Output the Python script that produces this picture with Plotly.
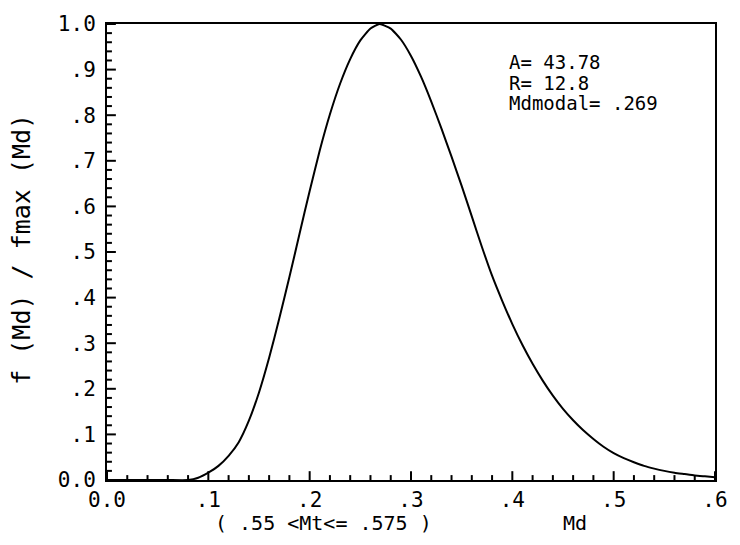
import plotly.graph_objects as go

# Normalised distribution f(Md)/fmax(Md) against Md
md = [0.00, 0.02, 0.04, 0.06, 0.08, 0.09, 0.10, 0.11, 0.12, 0.13, 0.14, 0.15,
      0.16, 0.17, 0.18, 0.19, 0.20, 0.21, 0.22, 0.23, 0.24, 0.25, 0.26, 0.269,
      0.28, 0.29, 0.30, 0.31, 0.32, 0.33, 0.34, 0.35, 0.36, 0.37, 0.38, 0.39,
      0.40, 0.41, 0.42, 0.43, 0.44, 0.45, 0.46, 0.47, 0.48, 0.49, 0.50, 0.51,
      0.52, 0.53, 0.54, 0.55, 0.56, 0.57, 0.58, 0.59, 0.60]
ratio = [0.000, 0.000, 0.000, 0.000, 0.000, 0.005, 0.016, 0.031, 0.053, 0.083,
         0.130, 0.192, 0.268, 0.354, 0.445, 0.540, 0.634, 0.723, 0.802, 0.869,
         0.923, 0.964, 0.990, 1.000, 0.990, 0.966, 0.930, 0.884, 0.830, 0.771,
         0.709, 0.645, 0.578, 0.511, 0.448, 0.393, 0.342, 0.296, 0.255, 0.218,
         0.185, 0.156, 0.131, 0.109, 0.090, 0.073, 0.059, 0.048, 0.039, 0.031,
         0.025, 0.020, 0.016, 0.013, 0.010, 0.008, 0.006]

# tick label text (leading zero dropped except at the origin)
x_labels = {"0.1": ".1", "0.2": ".2", "0.3": ".3", "0.4": ".4",
            "0.5": ".5", "0.6": ".6"}
y_labels = {"0.1": ".1", "0.2": ".2", "0.3": ".3", "0.4": ".4", "0.5": ".5",
            "0.6": ".6", "0.7": ".7", "0.8": ".8", "0.9": ".9"}

param_lines = ["A= 43.78", "R= 12.8", "Mdmodal= .269"]

FONT = "DejaVu Sans Mono"
INK = "black"
X_MAX, Y_MAX = 0.6, 1.0
MAJOR, MINOR = 0.1, 0.02

layout_w, layout_h = 740, 545
ml, mr, mt, mb = 107, 16, 15, 65
pw, ph = layout_w - ml - mr, layout_h - mt - mb

fig = go.Figure()
fig.add_trace(go.Scatter(
    x=md, y=ratio, mode="lines",
    line=dict(color=INK, width=2, shape="spline", smoothing=0.5),
    hoverinfo="skip", showlegend=False,
))

# inward tick marks along the bottom and left axes, sized in pixels
x_per_px = X_MAX / pw
y_per_px = Y_MAX / ph
tick_x, tick_y = [], []
steps_per_major = int(round(MAJOR / MINOR))
for i in range(int(round(X_MAX / MINOR)) + 1):
    v = i * MINOR
    length = 9 if i % steps_per_major == 0 else 5
    tick_x += [v, v, None]
    tick_y += [0, length * y_per_px, None]
for i in range(int(round(Y_MAX / MINOR)) + 1):
    v = i * MINOR
    length = 9 if i % steps_per_major == 0 else 5
    tick_x += [0, length * x_per_px, None]
    tick_y += [v, v, None]
fig.add_trace(go.Scatter(
    x=tick_x, y=tick_y, mode="lines", line=dict(color=INK, width=2),
    hoverinfo="skip", showlegend=False, cliponaxis=False,
))

axis_common = dict(
    showgrid=False, zeroline=False,
    showline=True, linecolor=INK, linewidth=2, mirror=True,
    tickmode="linear", tick0=0, dtick=MAJOR, tickformat=".1f",
    ticks="", tickfont=dict(family=FONT, size=21, color=INK),
)

fig.update_xaxes(range=[0, X_MAX], labelalias=x_labels,
                 ticklabelstandoff=0, **axis_common)
fig.update_yaxes(range=[0, Y_MAX], labelalias=y_labels,
                 ticklabelstandoff=5, **axis_common)


def px_to_paper(px, py):
    return (px - ml) / pw, 1 - (py - mt) / ph


annotations = []
# parameter block, top right
for i, line in enumerate(param_lines):
    ax, ay = px_to_paper(513, 54 + 21 * i)
    annotations.append(dict(
        x=ax, y=ay, xref="paper", yref="paper", text=line,
        showarrow=False, xanchor="left", yanchor="middle",
        font=dict(family=FONT, size=19, color=INK),
    ))

# x-axis caption pieces
cx, cy = px_to_paper(327, 524)
annotations.append(dict(x=cx, y=cy, xref="paper", yref="paper",
                        text="( .55 &lt;Mt&lt;= .575 )", showarrow=False,
                        xanchor="center", yanchor="middle",
                        font=dict(family=FONT, size=20, color=INK)))
cx, cy = px_to_paper(582, 524)
annotations.append(dict(x=cx, y=cy, xref="paper", yref="paper",
                        text="Md", showarrow=False,
                        xanchor="center", yanchor="middle",
                        font=dict(family=FONT, size=20, color=INK)))
# y-axis caption
cx, cy = px_to_paper(20, 245)
annotations.append(dict(x=cx, y=cy, xref="paper", yref="paper",
                        text="f (Md) / fmax (Md)", showarrow=False, textangle=-90,
                        xanchor="center", yanchor="middle",
                        font=dict(family=FONT, size=25, color=INK)))

fig.update_layout(
    width=layout_w, height=layout_h,
    margin=dict(l=ml, r=mr, t=mt, b=mb),
    paper_bgcolor="white", plot_bgcolor="white",
    annotations=annotations,
)

fig.write_html("out.html")
